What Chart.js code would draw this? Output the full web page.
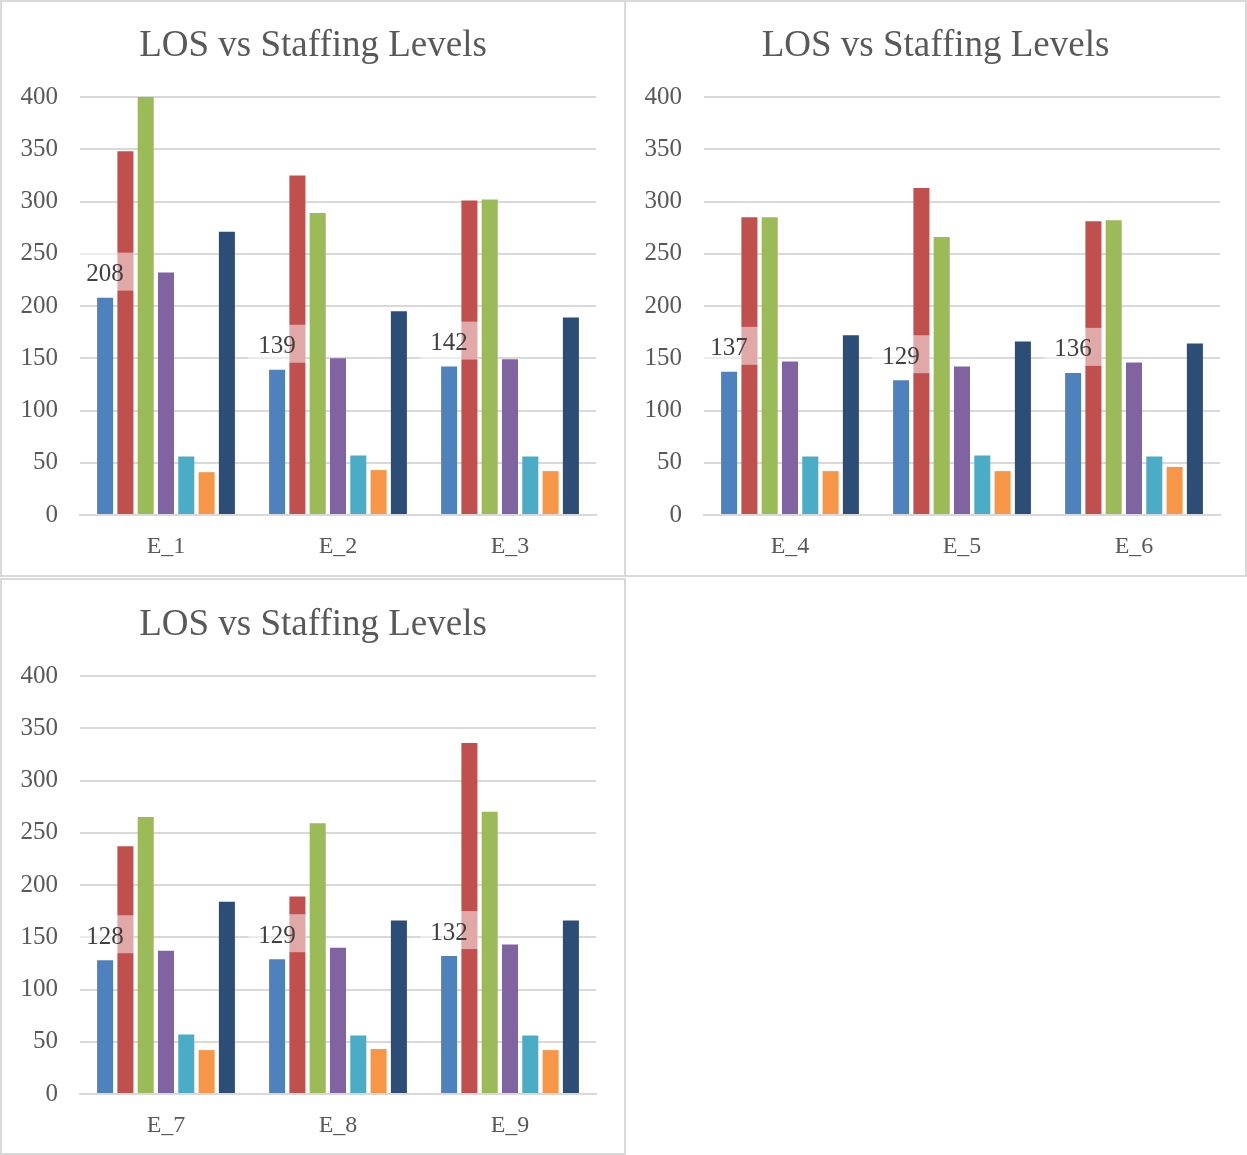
<!DOCTYPE html>
<html>
<head>
<meta charset="utf-8">
<title>LOS vs Staffing Levels</title>
<script src="https://cdn.jsdelivr.net/npm/chart.js@4/dist/chart.umd.min.js"></script>
<style>
  html, body { margin: 0; padding: 0; background: #ffffff; }
  body { width: 1247px; height: 1155px; position: relative; overflow: hidden; }
  .panel { position: absolute; }
  .panel .frame { position: absolute; inset: 0; border: 2px solid #D9D9D9; box-sizing: border-box; pointer-events: none; }
  .panel .holder { position: absolute; inset: 0; }
</style>
</head>
<body>
<div class="panel" id="p1" style="left:0;top:0;width:626px;height:577px"><div class="holder"><canvas id="c1"></canvas></div><div class="frame"></div></div>
<div class="panel" id="p2" style="left:624px;top:0;width:623px;height:577px"><div class="holder"><canvas id="c2"></canvas></div><div class="frame"></div></div>
<div class="panel" id="p3" style="left:0;top:578px;width:626px;height:577px"><div class="holder"><canvas id="c3"></canvas></div><div class="frame"></div></div>
<script>
// Categories (three per chart)
const categories = ['E_1', 'E_2', 'E_3', 'E_4', 'E_5', 'E_6', 'E_7', 'E_8', 'E_9'];

// Series values, one entry per category
const series1 = [208, 139, 142, 137, 129, 136, 128, 129, 132];
const series2 = [348, 325, 301, 285, 313, 281, 237, 189, 336];
const series3 = [400, 289, 302, 285, 266, 282, 265, 259, 270];
const series4 = [232, 150, 149, 147, 142, 146, 137, 140, 143];
const series5 = [56, 57, 56, 56, 57, 56, 57, 56, 56];
const series6 = [41, 43, 42, 42, 42, 46, 42, 43, 42];
const series7 = [271, 195, 189, 172, 166, 164, 184, 166, 166];

const seriesNames = ['Series 1', 'Series 2', 'Series 3', 'Series 4', 'Series 5', 'Series 6', 'Series 7'];
const seriesColors = ['#4F81BD', '#C0504D', '#9BBB59', '#8064A2', '#4BACC6', '#F79646', '#2C4D75'];
const allSeries = [series1, series2, series3, series4, series5, series6, series7];

// Value axis ticks
const yTicks = [0, 50, 100, 150, 200, 250, 300, 350, 400];

const chartTitle = 'LOS vs Staffing Levels';
const serif = "'Liberation Serif', 'DejaVu Serif', serif";

// Value label for the first series, on a translucent white box above the bar
const firstSeriesLabels = {
  id: 'firstSeriesLabels',
  afterDatasetsDraw(chart) {
    const ctx = chart.ctx;
    const meta = chart.getDatasetMeta(0);
    const data = chart.data.datasets[0].data;
    ctx.save();
    ctx.font = '25px ' + serif;
    ctx.textAlign = 'center';
    ctx.textBaseline = 'middle';
    meta.data.forEach((bar, i) => {
      const text = String(data[i]);
      const w = ctx.measureText(text).width + 20;
      const h = 38;
      const bottom = bar.y - 7;
      ctx.fillStyle = 'rgba(255,255,255,0.5)';
      ctx.fillRect(bar.x - w / 2, bottom - h, w, h);
      ctx.fillStyle = '#404040';
      ctx.fillText(text, bar.x, bottom - h / 2 + 3);
    });
    ctx.restore();
  }
};

function makeChart(canvasId, start, panelWidth, shift) {
  const labels = categories.slice(start, start + 3);
  const datasets = allSeries.map((s, k) => ({
    label: seriesNames[k],
    data: s.slice(start, start + 3),
    backgroundColor: seriesColors[k],
    borderWidth: 0,
    categoryPercentage: 0.826,
    barPercentage: 0.79
  }));
  return new Chart(document.getElementById(canvasId), {
    type: 'bar',
    data: { labels, datasets },
    plugins: [firstSeriesLabels],
    options: {
      responsive: true,
      maintainAspectRatio: false,
      animation: false,
      devicePixelRatio: 1,
      layout: { padding: 0 },
      plugins: {
        legend: { display: false },
        tooltip: { enabled: false },
        title: {
          display: true,
          text: chartTitle,
          color: '#595959',
          font: { family: serif, size: 37, weight: 'normal' },
          padding: { top: 24 + shift, bottom: 28.6 }
        }
      },
      scales: {
        x: {
          grid: { display: false, drawTicks: false },
          border: { display: true, color: '#D9D9D9', width: 2 },
          ticks: {
            color: '#595959',
            font: { family: serif, size: 24 },
            padding: 17
          },
          afterFit(scale) { scale.height = 62 - shift; }
        },
        y: {
          min: 0,
          max: 400,
          afterBuildTicks(scale) { scale.ticks = yTicks.map(v => ({ value: v })); },
          grid: { color: '#D9D9D9', lineWidth: 2, drawTicks: false },
          border: { display: false },
          ticks: {
            color: '#595959',
            font: { family: serif, size: 25 },
            padding: 22
          },
          afterFit(scale) { scale.width = 80; }
        },
        // empty margin on the right of the plot so the title stays centred on the panel
        margin: {
          type: 'linear',
          position: 'right',
          display: true,
          grid: { display: false, drawTicks: false },
          border: { display: false },
          ticks: { display: false },
          afterFit(scale) { scale.width = panelWidth - 596; }
        }
      }
    }
  });
}

makeChart('c1', 0, 626, 0);
makeChart('c2', 3, 623, 0);
makeChart('c3', 6, 626, 1);
</script>
</body>
</html>
